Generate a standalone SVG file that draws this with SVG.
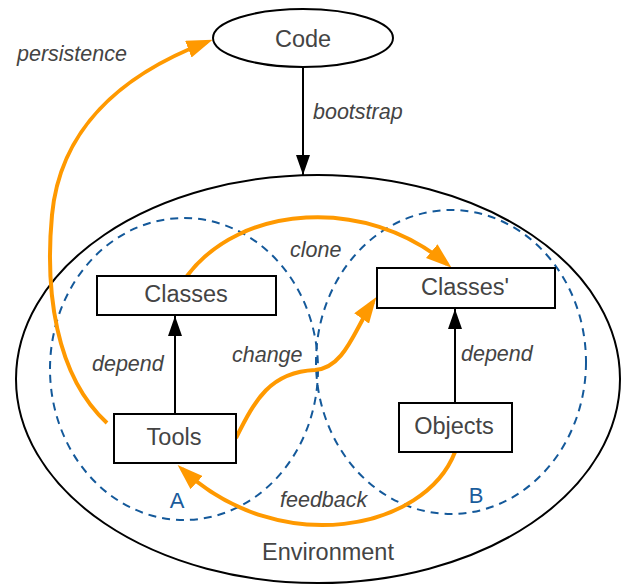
<svg xmlns="http://www.w3.org/2000/svg" width="621" height="584" viewBox="0 0 621 584">
  <style>
    .lbl { font-family: "Liberation Sans", Arial, sans-serif; fill: #444; }
    .node { font-size: 23.5px; text-anchor: middle; }
    .edge { font-size: 21.5px; font-style: italic; }
    .zone { font-family: "Liberation Sans", Arial, sans-serif; font-size: 22px; fill: #1a5c9c; text-anchor: middle; }
    .box { fill: #fff; stroke: #000; stroke-width: 2; }
    .dash { fill: none; stroke: #14599a; stroke-width: 2; stroke-dasharray: 8 6; }
    .blk { fill: none; stroke: #000; stroke-width: 2; marker-end: url(#headBlack); }
    .org { fill: none; stroke: #ff9900; stroke-width: 4; marker-end: url(#headOrange); }
  </style>
  <defs>
    <marker id="headBlack" viewBox="0 0 20 14" markerWidth="20" markerHeight="14" refX="20" refY="7" orient="auto" markerUnits="userSpaceOnUse">
      <path d="M0,0 L20,7 L0,14 z" fill="#000"/>
    </marker>
    <marker id="headOrange" viewBox="0 0 26 18" markerWidth="26" markerHeight="18" refX="20" refY="9" orient="auto" markerUnits="userSpaceOnUse">
      <path d="M0,0 L26,9 L0,18 z" fill="#ff9900"/>
    </marker>
  </defs>

  <!-- environment and the two zones -->
  <g id="environment">
    <ellipse cx="318" cy="379" rx="302" ry="204" fill="none" stroke="#000" stroke-width="2"/>
    <text class="lbl node" x="328" y="560">Environment</text>
  </g>
  <g id="zoneA">
    <ellipse class="dash" cx="184" cy="369" rx="134" ry="151"/>
    <text class="zone" x="177" y="508">A</text>
  </g>
  <g id="zoneB">
    <ellipse class="dash" cx="451" cy="362" rx="135" ry="152"/>
    <text class="zone" x="476" y="503">B</text>
  </g>

  <!-- connectors -->
  <g id="connectors">
    <path class="blk" d="M303,67 L303,175"/>
    <path class="blk" d="M175,414 L175,316"/>
    <path class="blk" d="M455,403 L455,309"/>
    <path class="org" d="M107,423 C55,375 45,290 52,215 C60,130 120,75 207,42"/>
    <path class="org" d="M187,276 C240,205 365,195 447,264"/>
    <path class="org" d="M236,438 C255,400 270,372 315,370 C345,368 355,328 373,302"/>
    <path class="org" d="M455,452 C425,530 280,560 182,469"/>
    <text class="lbl edge" x="17" y="61">persistence</text>
    <text class="lbl edge" x="313" y="119">bootstrap</text>
    <text class="lbl edge" x="290" y="257">clone</text>
    <text class="lbl edge" x="232" y="362">change</text>
    <text class="lbl edge" x="92" y="371">depend</text>
    <text class="lbl edge" x="461" y="361">depend</text>
    <text class="lbl edge" x="280" y="507">feedback</text>
  </g>

  <!-- nodes -->
  <g id="code">
    <ellipse cx="303" cy="38" rx="90" ry="29" fill="#fff" stroke="#000" stroke-width="2"/>
    <text class="lbl node" x="303" y="47">Code</text>
  </g>
  <g id="classes">
    <rect class="box" x="97" y="276" width="179" height="39"/>
    <text class="lbl node" x="186" y="302">Classes</text>
  </g>
  <g id="classesPrime">
    <rect class="box" x="377" y="268" width="178" height="40"/>
    <text class="lbl node" x="465" y="295">Classes'</text>
  </g>
  <g id="tools">
    <rect class="box" x="114" y="414" width="122" height="49"/>
    <text class="lbl node" x="174" y="445">Tools</text>
  </g>
  <g id="objects">
    <rect class="box" x="399" y="403" width="113" height="49"/>
    <text class="lbl node" x="454" y="434">Objects</text>
  </g>
</svg>
